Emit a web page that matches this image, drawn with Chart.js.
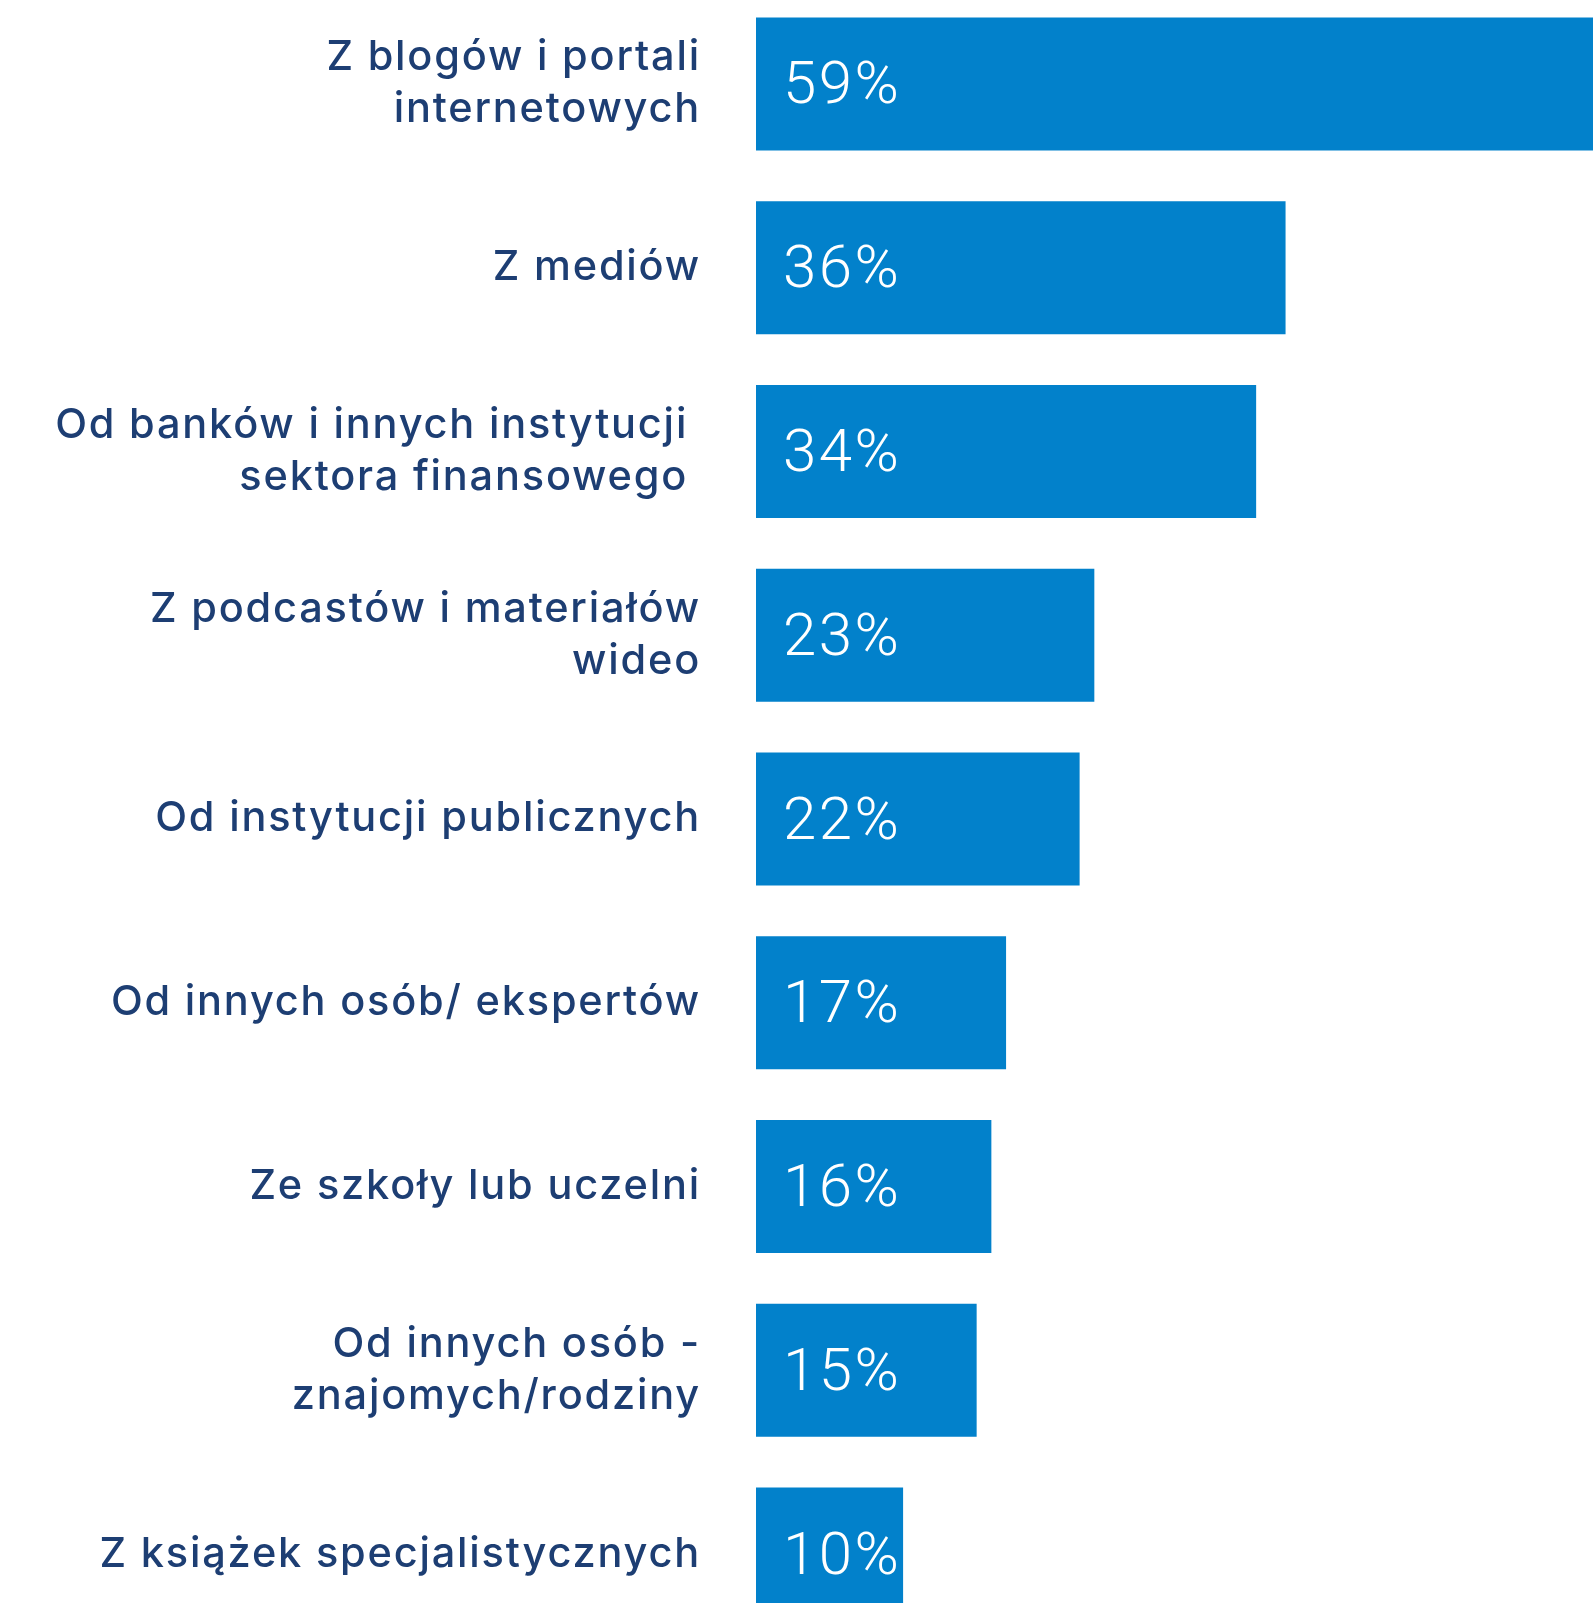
<!DOCTYPE html>
<html>
<head>
<meta charset="utf-8">
<script src="https://cdn.jsdelivr.net/npm/chart.js@4/dist/chart.umd.min.js"></script>
<style>
  html, body { margin: 0; padding: 0; background: #ffffff; overflow: hidden; width: 1593px; height: 1603px; }
  #wrap { position: absolute; left: 0; top: -7.6px; width: 1593px; height: 1654px; }
</style>
</head>
<body>
<div id="wrap"><canvas id="c"></canvas></div>
<script>
const categories = [
  ['Z blogów i portali', 'internetowych'],
  'Z mediów',
  ['Od banków i innych instytucji ', 'sektora finansowego '],
  ['Z podcastów i materiałów', 'wideo'],
  'Od instytucji publicznych',
  'Od innych osób/ ekspertów',
  'Ze szkoły lub uczelni',
  ['Od innych osób -', 'znajomych/rodziny'],
  'Z książek specjalistycznych'
];
const values = [59, 36, 34, 23, 22, 17, 16, 15, 10];
const valueSuffix = '%';

const barColor = '#0281cb';
const labelColor = '#1d3e73';

const spacing = {
  id: 'spacing',
  beforeDraw(chart) { chart.ctx.letterSpacing = '1.8px'; }
};

const valueLabels = {
  id: 'valueLabels',
  afterDatasetsDraw(chart) {
    const ctx = chart.ctx;
    const meta = chart.getDatasetMeta(0);
    ctx.save();
    ctx.fillStyle = '#ffffff';
    ctx.font = '300 60px Roboto';
    ctx.letterSpacing = '2.5px';
    ctx.textAlign = 'left';
    ctx.textBaseline = 'alphabetic';
    meta.data.forEach((el, i) => {
      ctx.fillText(values[i] + valueSuffix, el.base + 27, el.y + 19.5);
    });
    ctx.restore();
  }
};

new Chart(document.getElementById('c'), {
  type: 'bar',
  data: {
    labels: categories,
    datasets: [{
      data: values,
      backgroundColor: barColor,
      borderWidth: 0,
      categoryPercentage: 1,
      barPercentage: 0.7236
    }]
  },
  options: {
    indexAxis: 'y',
    responsive: true,
    maintainAspectRatio: false,
    animation: false,
    layout: { padding: 0 },
    plugins: { legend: { display: false }, tooltip: { enabled: false }, title: { display: false } },
    scales: {
      x: { display: false, min: 0, max: 56.9 },
      y: {
        display: true,
        border: { display: false },
        grid: { display: false, drawTicks: false },
        afterFit(scale) {
          scale.width = 756;
          scale.paddingTop = 0;
          scale.paddingBottom = 0;
        },
        ticks: {
          autoSkip: false,
          padding: 55,
          color: labelColor,
          font: { family: 'Inter', size: 41.5, weight: '500', lineHeight: 1.255 }
        }
      }
    }
  },
  plugins: [spacing, valueLabels]
});
</script>
</body>
</html>
